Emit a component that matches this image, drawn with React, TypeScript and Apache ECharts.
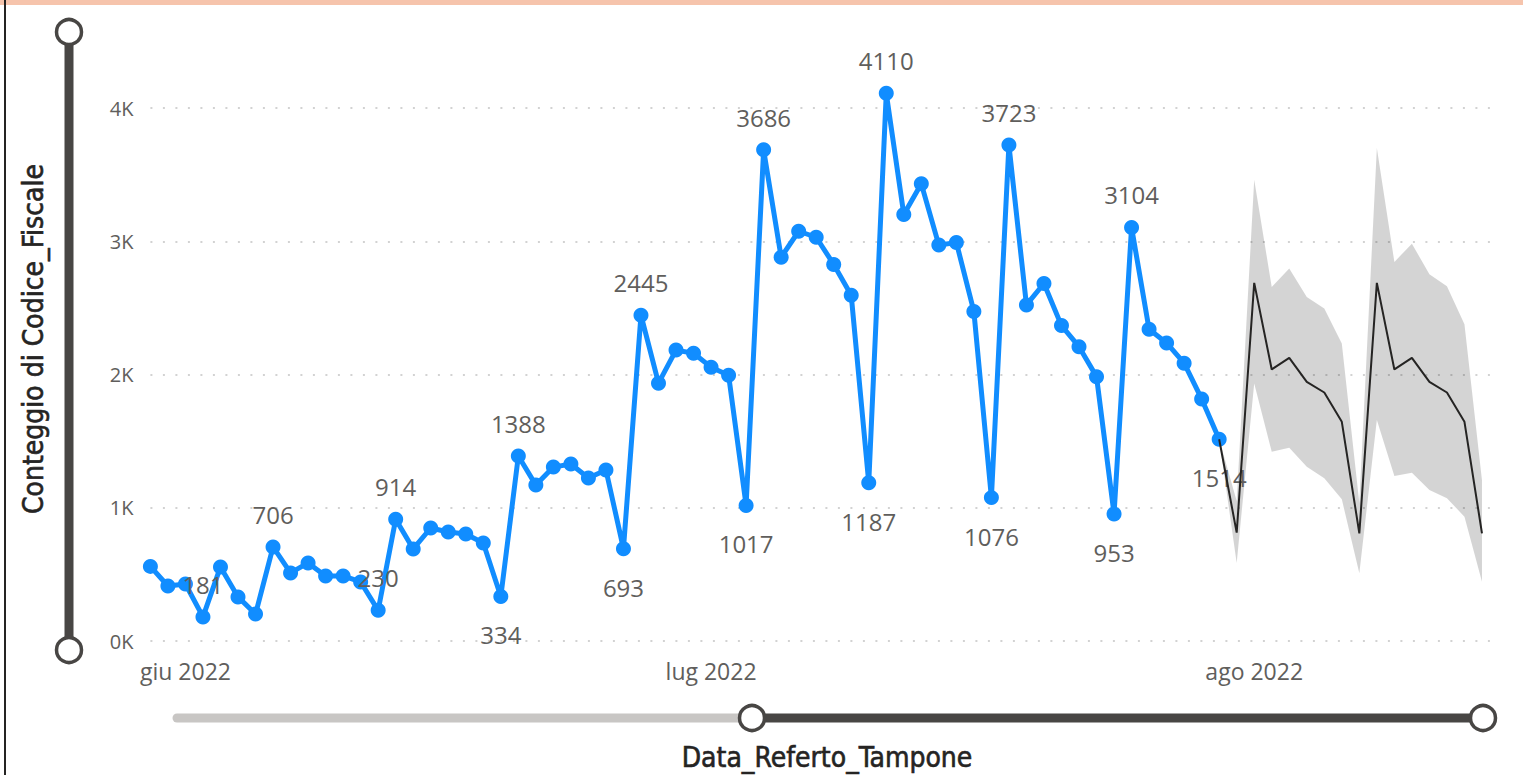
import React, { useEffect, useRef } from "react";
import * as echarts from "echarts";

// ---- data ----
const actualStart = "2022-05-30";
const actualValues = [
  560, 413, 428, 181, 556, 331, 202, 706, 511, 586, 488, 488, 443, 230, 914, 691,
  848, 818, 803, 736, 334, 1388, 1170, 1305, 1328, 1223, 1283, 693, 2445, 1935,
  2183, 2160, 2055, 1995, 1017, 3686, 2880, 3075, 3030, 2826, 2595, 1187, 4110,
  3201, 3431, 2971, 2991, 2473, 1076, 3723, 2522, 2683, 2367, 2209, 1984, 953,
  3104, 2339, 2237, 2085, 1817, 1514,
];
const forecastStart = "2022-07-30";
const forecastValues = [1514, 813, 2688, 2038, 2125, 1945, 1865, 1645, 808, 2688, 2038, 2125, 1945, 1865, 1645, 808];
const upperValues = [1514, 1050, 3462, 2657, 2795, 2582, 2495, 2233, 1035, 3700, 2845, 2982, 2752, 2663, 2378, 1207];
const lowerValues = [1514, 585, 1933, 1420, 1450, 1308, 1221, 1063, 508, 1658, 1238, 1263, 1133, 1071, 933, 445];
const peakLabelDays = ["2022-06-02", "2022-06-06", "2022-06-12", "2022-06-13", "2022-06-20", "2022-06-27", "2022-07-04", "2022-07-11", "2022-07-18", "2022-07-25"];
const troughLabelDays = ["2022-06-19", "2022-06-26", "2022-07-03", "2022-07-10", "2022-07-17", "2022-07-24", "2022-07-30"];
const tickDays = ["2022-06-01", "2022-07-01", "2022-08-01"];
const tickLabels = ["giu 2022", "lug 2022", "ago 2022"];
const axisMin = "2022-05-30";
const axisMax = "2022-08-15";
const yTitle = "Conteggio di Codice_Fiscale";
const xTitle = "Data_Referto_Tampone";

const DAY = 86400000;
const ts = (s: string) => Date.parse(s + "T00:00:00Z");

export default function App() {
  const ref = useRef<HTMLDivElement>(null);
  useEffect(() => {
    if (!ref.current) return;
    const chart = echarts.init(ref.current, null, { renderer: "svg" });
    const a0 = ts(actualStart);
    const f0 = ts(forecastStart);
    const peakSet = new Set(peakLabelDays.map(ts));
    const troughSet = new Set(troughLabelDays.map(ts));
    const actualData = actualValues.map((v, i) => {
      const t = a0 + i * DAY;
      const item: any = { value: [t, v] };
      if (peakSet.has(t)) item.label = { show: true, position: "top", distance: 13 };
      else if (troughSet.has(t)) item.label = { show: true, position: "bottom", distance: 19 };
      return item;
    });
    const fc = forecastValues.map((v, i) => [f0 + i * DAY, v]);
    const band = forecastValues.map((_, i) => [f0 + i * DAY, lowerValues[i], upperValues[i]]);
    const tickTs = tickDays.map(ts);
    const font = "'Segoe UI', 'Open Sans', sans-serif";
    const titleFont = "'DejaVu Sans Condensed', 'DejaVu Sans', sans-serif";

    chart.setOption({
      animation: false,
      backgroundColor: "#ffffff",
      grid: { left: 150.4, right: 23.5, top: 108, bottom: 134, containLabel: false },
      xAxis: {
        type: "value",
        min: ts(axisMin),
        max: ts(axisMax),
        scale: true,
        axisLine: { show: false },
        axisTick: { show: false },
        splitLine: { show: false },
        axisLabel: {
          customValues: tickTs,
          formatter: (v: number) => {
            const k = tickTs.indexOf(v);
            return k >= 0 ? tickLabels[k] : "";
          },
          fontSize: 23,
          color: "#605E5C",
          fontFamily: font,
          margin: 18,
          showMinLabel: true,
          showMaxLabel: true,
        },
      },
      yAxis: {
        type: "value",
        min: 0,
        max: 4000,
        interval: 1000,
        axisLine: { show: false },
        axisTick: { show: false },
        axisLabel: {
          formatter: (v: number) => v / 1000 + "K",
          fontSize: 20,
          color: "#605E5C",
          fontFamily: font,
          margin: 17,
        },
        splitLine: { show: true, lineStyle: { type: [2, 10.5], color: "#c4c4c4", width: 1.5 } },
      },
      series: [
        {
          name: "band",
          type: "custom",
          data: band,
          encode: { x: 0, y: [1, 2] },
          silent: true,
          z: 1,
          renderItem: (params: any, api: any) => {
            if (params.dataIndex !== 0) return null;
            const top = band.map((d) => api.coord([d[0], d[2]]));
            const bottom = band.map((d) => api.coord([d[0], d[1]])).reverse();
            return {
              type: "polygon",
              shape: { points: top.concat(bottom) },
              style: { fill: "rgba(0,0,0,0.17)" },
            };
          },
        },
        {
          name: "actual",
          type: "line",
          data: actualData,
          color: "#118DFF",
          lineStyle: { width: 5, color: "#118DFF" },
          itemStyle: { color: "#118DFF" },
          symbol: "circle",
          symbolSize: 15,
          showAllSymbol: true,
          clip: false,
          z: 3,
          label: { show: false, fontSize: 24, color: "#605E5C", fontFamily: font },
          labelLayout: { hideOverlap: false },
        },
        {
          name: "forecast",
          type: "line",
          data: fc,
          symbol: "none",
          lineStyle: { width: 2, color: "#252423" },
          clip: false,
          z: 4,
        },
      ],
      graphic: [
        { type: "rect", shape: { x: 0, y: 0, width: 1523, height: 5 }, style: { fill: "#F6C4AC" } },
        { type: "rect", shape: { x: 4, y: 0, width: 2, height: 775 }, style: { fill: "#252423" } },
        { type: "line", shape: { x1: 69, y1: 32, x2: 69, y2: 650 }, style: { stroke: "#484644", lineWidth: 9 } },
        { type: "circle", shape: { cx: 69, cy: 32, r: 12.5 }, style: { fill: "#ffffff", stroke: "#484644", lineWidth: 3.5 } },
        { type: "circle", shape: { cx: 69, cy: 650, r: 12.5 }, style: { fill: "#ffffff", stroke: "#484644", lineWidth: 3.5 } },
        { type: "line", shape: { x1: 177, y1: 718, x2: 752, y2: 718 }, style: { stroke: "#C8C6C4", lineWidth: 9, lineCap: "round" } },
        { type: "line", shape: { x1: 752, y1: 718, x2: 1483, y2: 718 }, style: { stroke: "#484644", lineWidth: 9 } },
        { type: "circle", shape: { cx: 752, cy: 718, r: 12.5 }, style: { fill: "#ffffff", stroke: "#484644", lineWidth: 3.5 } },
        { type: "circle", shape: { cx: 1483, cy: 718, r: 12.5 }, style: { fill: "#ffffff", stroke: "#484644", lineWidth: 3.5 } },
        {
          type: "text",
          x: 33,
          y: 339,
          rotation: Math.PI / 2,
          style: {
            text: yTitle,
            fontSize: 28,
            fontFamily: titleFont,
            fill: "#252423",
            stroke: "#252423",
            lineWidth: 0.6,
            textAlign: "center",
            textVerticalAlign: "middle",
          },
        },
        {
          type: "text",
          x: 827,
          y: 757,
          style: {
            text: xTitle,
            fontSize: 28,
            fontFamily: titleFont,
            fill: "#252423",
            stroke: "#252423",
            lineWidth: 0.6,
            textAlign: "center",
            textVerticalAlign: "middle",
          },
        },
      ],
    });
    return () => chart.dispose();
  }, []);
  return (
    <div
      ref={ref}
      style={{ position: "fixed", left: 0, top: 0, width: 1523, height: 775, background: "#fff" }}
    />
  );
}
